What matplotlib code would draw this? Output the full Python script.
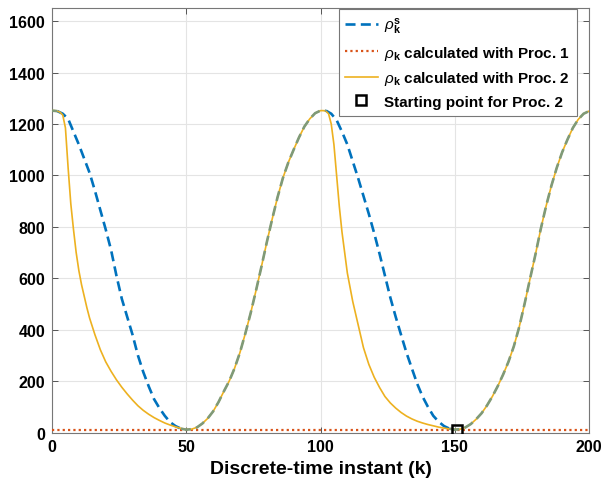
import numpy as np
import matplotlib
matplotlib.use("Agg")
import matplotlib.pyplot as plt

plt.rcParams['font.family'] = ['Liberation Sans', 'DejaVu Sans']
plt.rcParams['mathtext.fontset'] = 'custom'
plt.rcParams['mathtext.rm'] = 'Liberation Sans'
plt.rcParams['mathtext.it'] = 'Liberation Sans:italic'
plt.rcParams['mathtext.bf'] = 'Liberation Sans:bold'

# ---- data ----
k_s = np.arange(0, 201, 2)
rho_s = [1252, 1250, 1240, 1220, 1170, 1120, 1065, 1010, 940, 865,
         790, 710, 610, 520, 450, 380, 300, 235, 180, 130,
         95, 65, 40, 25, 15, 11, 13, 20, 35, 55,
         82, 118, 160, 200, 250, 311, 385, 465, 553, 645,
         740, 830, 915, 990, 1050, 1100, 1148, 1190, 1220, 1242,
         1252, 1252, 1240, 1215, 1170, 1120, 1055, 990, 920, 850,
         775, 695, 610, 525, 450, 380, 311, 250, 190, 140,
         100, 65, 42, 25, 15, 11, 13, 20, 33, 52,
         75, 105, 140, 180, 225, 275, 335, 410, 500, 596,
         690, 790, 880, 960, 1030, 1090, 1140, 1185, 1218, 1240, 1250]

k_p2 = [0, 1, 2, 3, 4, 5, 6, 7, 8, 9, 10, 11, 12, 13, 14, 16, 18, 20, 22, 24,
        26, 28, 30, 32, 34, 36, 38, 40, 42, 44, 46, 48, 50,
        52, 54, 56, 58, 60, 62, 64, 66, 68, 70, 72, 74, 76, 78, 80, 82, 84, 86,
        88, 90, 92, 94, 96, 98, 100,
        101, 102, 103, 104, 105, 106, 107, 108, 109, 110, 111, 112, 113, 114,
        116, 118, 120, 122, 124, 126, 128, 130, 132, 134, 136, 138, 140, 142,
        144, 146, 148, 150,
        152, 154, 156, 158, 160, 162, 164, 166, 168, 170, 172, 174, 176, 178,
        180, 182, 184, 186, 188, 190, 192, 194, 196, 198, 200]
rho_p2 = [1252, 1252, 1250, 1246, 1235, 1185, 1030, 890, 790, 700, 630, 575, 530, 485, 445, 380, 322, 275, 238, 205,
          176, 150, 126, 104, 86, 71, 58, 47, 37, 29, 22, 16, 12,
          13, 20, 35, 55, 82, 118, 160, 200, 250, 311, 385, 465, 553, 645, 740, 830, 915, 990,
          1050, 1100, 1148, 1190, 1220, 1242, 1252,
          1252, 1250, 1240, 1200, 1120, 1000, 880, 780, 700, 620, 565, 510, 465, 420,
          330, 265, 215, 175, 140, 115, 95, 78, 64, 53, 44, 37, 31, 26,
          21, 17, 14, 12,
          13, 20, 33, 52, 75, 105, 140, 180, 225, 275, 335, 410, 500, 596,
          690, 790, 880, 960, 1030, 1090, 1140, 1185, 1218, 1240, 1250]

k_p1 = [0, 200]
rho_p1 = [11, 11]

start_k = [151]
start_val = [11]

x_ticks = [0, 50, 100, 150, 200]
y_ticks = [0, 200, 400, 600, 800, 1000, 1200, 1400, 1600]

labels = [r'$\rho_{\mathbf{k}}^{\mathbf{s}}$',
          r'$\rho_{\mathbf{k}}$ calculated with Proc. 1',
          r'$\rho_{\mathbf{k}}$ calculated with Proc. 2',
          'Starting point for Proc. 2']

# ---- plot ----
fig = plt.figure(figsize=(6.05, 4.85), dpi=100)
ax = fig.add_axes([52/605, 1 - 433.5/485, (589-52)/605, (433.5-9.3)/485])

rs = np.array(rho_s, dtype=float)
overlap = np.abs(np.interp(k_s, k_p2, rho_p2) - rs) < 3
# extend overlap mask by one point on each side so segments join
ov_ext = overlap.copy()
ov_ext[1:] |= overlap[:-1]
ov_ext[:-1] |= overlap[1:]
blue_only = ~overlap
bo_ext = blue_only.copy()
bo_ext[1:] |= blue_only[:-1]
bo_ext[:-1] |= blue_only[1:]

dash = (0, (3.8, 2.0))
l1, = ax.plot(k_s, np.where(bo_ext, rs, np.nan), color='#0072BD', lw=1.9,
              linestyle=dash, dash_capstyle='butt', zorder=3)
ax.plot(k_s, np.where(overlap, rs, np.nan), color='#7f9a78', lw=1.9,
        linestyle=dash, dash_capstyle='butt', zorder=5)
l2, = ax.plot(k_p1, rho_p1, color='#D95319', lw=1.6, linestyle=(0, (1.0, 1.4)),
              dash_capstyle='butt', zorder=4)
l3, = ax.plot(k_p2, rho_p2, color='#EDB120', lw=1.2, zorder=4)
l4, = ax.plot(start_k, start_val, linestyle='none', marker='s', markersize=7.5,
              markerfacecolor='none', markeredgecolor='black', markeredgewidth=1.8, zorder=6)

ax.set_xlim(0, 200)
ax.set_ylim(0, 1650)
ax.set_xticks(x_ticks)
ax.set_yticks(y_ticks)
ax.set_xticklabels([str(t) for t in x_ticks], fontsize=11.5, fontweight='bold')
ax.set_yticklabels([str(t) for t in y_ticks], fontsize=11.5, fontweight='bold')
ax.tick_params(direction='in', length=4, width=0.7, color='#555555', top=True, right=True, pad=5)
ax.grid(True, color='#e4e4e4', linewidth=0.8)
ax.set_axisbelow(True)
for s in ax.spines.values():
    s.set_color('#777777')
    s.set_linewidth(0.8)

ax.set_xlabel('Discrete-time instant (k)', fontsize=14, fontweight='bold', labelpad=4)

leg = ax.legend([l1, l2, l3, l4], labels, loc='upper right',
                bbox_to_anchor=(577/605, 1 - 10/485), bbox_transform=fig.transFigure,
                prop={'weight': 'bold', 'size': 11}, frameon=True, fancybox=False,
                edgecolor='#777777', framealpha=1, borderpad=0.45, labelspacing=0.5,
                handlelength=2.1, handletextpad=0.45, borderaxespad=0)
leg.get_frame().set_linewidth(0.8)

fig.savefig('out.png', dpi=100)
